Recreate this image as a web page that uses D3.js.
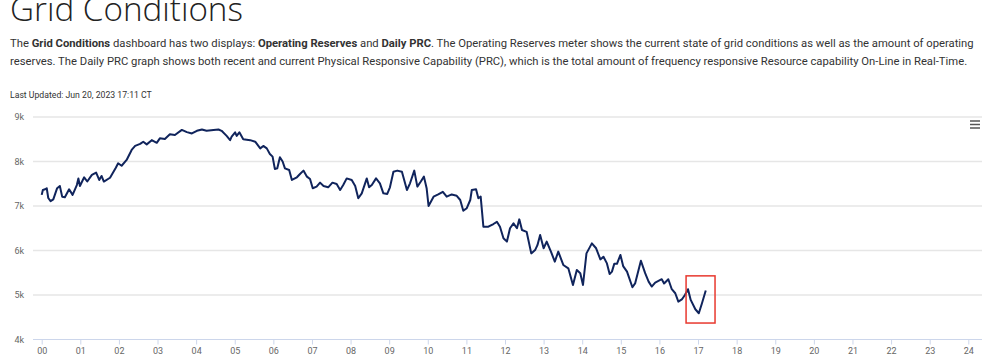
<!DOCTYPE html>
<html>
<head>
<meta charset="utf-8">
<script src="https://cdn.jsdelivr.net/npm/d3@7"></script>
<style>
  html, body { margin: 0; padding: 0; background: #fff; overflow: hidden; }
  #chartDiv { width: 1000px; height: 362px; }
</style>
</head>
<body>
<div id="chartDiv"></div>
<script>
// PRC readings, hour of day and MW
var hours = [0.00,0.03,0.09,0.13,0.17,0.23,0.30,0.40,0.47,0.53,0.60,0.71,0.80,0.91,0.95,0.99,
  1.10,1.18,1.30,1.41,1.49,1.55,1.61,1.77,1.92,1.98,2.07,2.20,2.33,2.42,2.55,2.63,2.72,2.85,2.98,
  3.06,3.19,3.32,3.45,3.63,3.76,3.89,4.02,4.15,4.27,4.45,4.58,4.66,4.79,4.88,4.92,5.01,5.05,5.12,
  5.22,5.40,5.53,5.66,5.74,5.83,5.91,5.98,6.04,6.10,6.17,6.24,6.30,6.41,6.48,6.61,6.69,6.78,6.87,
  6.95,7.02,7.12,7.21,7.30,7.42,7.53,7.64,7.73,7.81,7.90,8.03,8.12,8.20,8.29,8.42,8.48,8.55,8.66,
  8.76,8.85,8.95,9.02,9.11,9.21,9.33,9.46,9.54,9.65,9.73,9.82,9.90,9.97,10.02,10.15,10.27,10.39,
  10.49,10.62,10.75,10.84,10.92,11.01,11.10,11.14,11.25,11.31,11.37,11.44,11.57,11.70,11.79,11.87,
  11.96,12.05,12.13,12.22,12.31,12.37,12.44,12.56,12.68,12.78,12.84,12.91,13.00,13.08,13.19,13.29,
  13.38,13.51,13.64,13.76,13.86,13.95,14.02,14.11,14.25,14.36,14.47,14.55,14.64,14.71,14.77,14.83,
  14.90,14.99,15.06,15.16,15.30,15.37,15.52,15.63,15.72,15.80,15.89,16.06,16.12,16.23,16.32,16.41,
  16.49,16.58,16.66,16.74,16.81,16.93,17.02,17.10,17.20];
var prc = [7250,7360,7375,7400,7180,7110,7150,7400,7450,7210,7195,7375,7250,7470,7620,7450,
  7645,7550,7700,7750,7585,7675,7550,7635,7860,7960,7905,8035,8260,8350,8395,8445,8385,8480,8420,
  8520,8505,8610,8595,8710,8660,8630,8690,8720,8690,8710,8720,8690,8575,8480,8560,8655,8575,8655,
  8500,8480,8445,8295,8350,8295,8170,8110,7830,7845,8095,8000,7845,7810,7585,7645,7720,7795,7660,
  7605,7400,7435,7525,7450,7420,7525,7495,7360,7470,7620,7585,7450,7175,7285,7620,7420,7470,7620,
  7510,7285,7270,7420,7770,7795,7770,7360,7510,7795,7435,7550,7660,7400,7000,7210,7260,7320,
  7210,7260,7230,7135,6895,6950,7135,7360,7375,7175,7210,6535,6535,6595,6645,6535,
  6275,6200,6500,6610,6500,6700,6460,6420,5935,6010,6120,6350,6050,6200,5975,5750,
  5975,5675,5600,5225,5560,5490,5225,5935,6160,6050,5800,5860,5710,5470,5525,5700,
  5700,5900,5650,5525,5175,5260,5770,5490,5300,5190,5280,5355,5260,5355,5130,5040,
  4850,4900,5000,5130,4890,4680,4590,4810,5100];

var yTicks = [4000, 5000, 6000, 7000, 8000, 9000];
var xTicks = d3.range(0, 25);
// red highlight box: [start hour, end hour, low MW, high MW]
var highlightBox = [16.69, 17.44, 4370, 5430];

var titleText = "Grid Conditions";
var introLine1 = [
  ["The ", false], ["Grid Conditions", true], [" dashboard has two displays: ", false],
  ["Operating Reserves", true], [" and ", false], ["Daily PRC", true],
  [". The Operating Reserves meter shows the current state of grid conditions as well as the amount of operating", false]
];
var introLine2 = "reserves. The Daily PRC graph shows both recent and current Physical Responsive Capability (PRC), which is the total amount of frequency responsive Resource capability On-Line in Real-Time.";
var updatedText = "Last Updated: Jun 20, 2023 17:11 CT";

var svgWidth = 1000, svgHeight = 362;
var plotLeft = 33, plotRight = 982, plotTop = 117, plotBottom = 339.5;

var svg = d3.select("#chartDiv").append("svg")
  .attr("width", svgWidth)
  .attr("height", svgHeight);

// resize a text's font so it spans the wanted width
function fitWidth(sel, size, target){
  sel.attr("font-size", size);
  var w = sel.node().getComputedTextLength();
  if (w > 0) sel.attr("font-size", size * target / w);
}

// header texts
var title = svg.append("text")
  .attr("x", 10).attr("y", 21)
  .attr("font-family", "'Open Sans', sans-serif")
  .attr("font-weight", 300)
  .attr("fill", "#222")
  .text(titleText);
fitWidth(title, 33, 233);

var l1 = svg.append("text")
  .attr("x", 10).attr("y", 47)
  .attr("font-family", "Roboto, sans-serif")
  .attr("fill", "#333");
l1.selectAll("tspan").data(introLine1).enter().append("tspan")
  .attr("font-weight", d => d[1] ? 700 : 400)
  .text(d => d[0]);
fitWidth(l1, 12.5, 965);

var l2 = svg.append("text")
  .attr("x", 10).attr("y", 64.5)
  .attr("font-family", "Roboto, sans-serif")
  .attr("fill", "#333")
  .text(introLine2);
fitWidth(l2, 12.5, 958);

var upd = svg.append("text")
  .attr("x", 10).attr("y", 97.5)
  .attr("font-family", "Roboto, sans-serif")
  .attr("fill", "#333")
  .text(updatedText);
fitWidth(upd, 9, 142);

// scales
var xScale = d3.scaleLinear().domain([0, 24]).range([41.7, 968.3]);
var yScale = d3.scaleLinear().domain([4000, 9000]).range([plotBottom, plotTop]);

// gridlines
svg.append("g").selectAll("line")
  .data(yTicks.slice(1)).enter().append("line")
  .attr("x1", plotLeft).attr("x2", plotRight)
  .attr("y1", d => yScale(d)).attr("y2", d => yScale(d))
  .attr("stroke", "#e6e6e6")
  .attr("stroke-width", 1.3);

// y axis labels
var yAxis = d3.axisLeft(yScale)
  .tickValues(yTicks)
  .tickSize(0)
  .tickPadding(0)
  .tickFormat(d => (d / 1000) + "k");
var yG = svg.append("g").attr("transform", "translate(24,0)").call(yAxis);
yG.select(".domain").remove();
yG.selectAll("text")
  .attr("font-family", "Roboto, sans-serif")
  .attr("font-size", 9)
  .attr("fill", "#666");

// x axis
var xAxis = d3.axisBottom(xScale)
  .tickValues(xTicks)
  .tickSize(5)
  .tickPadding(3)
  .tickFormat(d => d3.format("02d")(d));
var xG = svg.append("g").attr("transform", "translate(0," + plotBottom + ")").call(xAxis);
xG.select(".domain").remove();
xG.selectAll(".tick line").attr("stroke", "#ccd6eb");
xG.selectAll("text")
  .attr("font-family", "Roboto, sans-serif")
  .attr("font-size", 9)
  .attr("fill", "#666");
svg.append("line")
  .attr("x1", plotLeft).attr("x2", plotRight)
  .attr("y1", plotBottom).attr("y2", plotBottom)
  .attr("stroke", "#ccd6eb")
  .attr("stroke-width", 1);

// PRC line
var points = hours.map((h, i) => [h, prc[i]]);
var line = d3.line()
  .x(d => xScale(d[0]))
  .y(d => yScale(d[1]));
svg.append("path")
  .datum(points)
  .attr("d", line)
  .attr("fill", "none")
  .attr("stroke", "#10245c")
  .attr("stroke-width", 2)
  .attr("stroke-linejoin", "round");

// highlight box
svg.append("rect")
  .attr("x", xScale(highlightBox[0]))
  .attr("y", yScale(highlightBox[3]))
  .attr("width", xScale(highlightBox[1]) - xScale(highlightBox[0]))
  .attr("height", yScale(highlightBox[2]) - yScale(highlightBox[3]))
  .attr("fill", "none")
  .attr("stroke", "#e8392f")
  .attr("stroke-width", 1.5);

// export menu icon
svg.append("g").selectAll("line")
  .data([121, 124.5, 128]).enter().append("line")
  .attr("x1", 970).attr("x2", 980)
  .attr("y1", d => d).attr("y2", d => d)
  .attr("stroke", "#555")
  .attr("stroke-width", 1.5);
</script>
</body>
</html>
